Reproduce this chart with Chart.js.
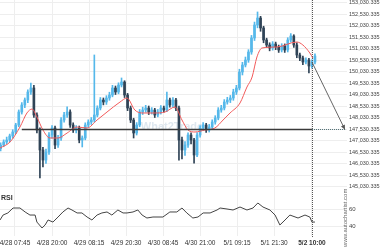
<!DOCTYPE html>
<html>
<head>
<meta charset="utf-8">
<script src="https://cdn.jsdelivr.net/npm/chart.js@4.4.1/dist/chart.umd.min.js"></script>
<style>
  html, body { margin: 0; padding: 0; background: #fff; }
  #wrap { width: 380px; height: 250px; position: relative; }
</style>
</head>
<body>
<div id="wrap"><canvas id="chart"></canvas></div>
<script>
// time axis is in hours since 4/28 00:00, one candle per hour
const firstHour = 3;
const opens = [146700,146855,146986,147073,147247,147421,147725,148290,148595,148812,
  149160,149334,148160,147508,146638,146203,146551,147290,147594,146855,
  147160,147942,148160,148290,147725,147508,147594,147073,147160,147725,
  147855,147942,148160,148464,148812,148725,148899,149029,149334,149160,
  149464,149595,149029,148464,147942,147377,147725,148290,148377,148464,
  148290,148377,148160,148290,148464,148377,148812,148595,148812,148464,
  147073,146638,146855,147290,147073,146421,147290,147594,147725,147508,
  147638,147855,148029,148377,148464,148725,148812,148899,149160,149334,
  150029,150334,150551,150899,151508,152073,152377,151943,151421,151203,
  151073,151247,151116,150986,151160,150986,151421,151595,151203,150769,
  150638,150464,150551,150290,150464];
const closes = [146855,146986,147073,147247,147421,147725,148290,148595,148812,149160,
  149334,148160,147508,146638,146203,146551,147290,147594,146855,147160,
  147942,148160,148290,147725,147508,147594,147073,147160,147725,147855,
  147942,148160,148464,148812,148725,148899,149029,149334,149160,149464,
  149595,149029,148464,147942,147377,147725,148290,148377,148464,148290,
  148377,148160,148290,148464,148377,148812,148595,148812,148464,147073,
  146638,146855,147290,147073,146421,147290,147594,147725,147508,147638,
  147855,148029,148377,148464,148725,148812,148899,149160,149334,150029,
  150334,150551,150899,151508,152073,152377,151943,151421,151203,151073,
  151247,151116,150986,151160,150986,151421,151595,151203,150769,150638,
  150464,150551,150290,150464,150725];
const highs = [146950,147080,147200,147330,147520,147800,148380,148700,148900,149250,
  149550,149450,148250,147600,146750,146680,147400,147700,147680,147280,
  148050,148280,148510,148380,147820,147700,147680,147250,147820,147950,
  148050,150770,148560,148920,148900,149000,149150,149450,149420,149560,
  149770,149650,149100,148550,148020,147830,148400,148500,148580,148550,
  148480,148450,148400,148570,148550,149160,148900,148920,148880,148550,
  147200,147000,147380,147380,147150,147400,147700,147830,147800,147750,
  147950,148130,148480,148580,148830,148930,149010,149280,149450,150150,
  150450,150680,151000,151620,152200,152640,152450,152020,151500,151300,
  151350,151330,151200,151260,151250,151520,151700,151650,151300,150850,
  150720,150650,150620,150560,150820];
const lows = [146600,146780,146900,146990,147150,147350,147650,148200,148480,148700,
  149050,148050,147380,145420,145900,146050,146450,147150,146700,146750,
  147050,147850,148050,147620,147400,147380,146950,146770,147080,147620,
  147750,147850,148080,148380,148600,148620,148800,148950,149050,149080,
  149380,148920,148350,147830,147160,147290,147650,148180,148280,148180,
  148200,148050,148080,148200,148280,148300,148500,148500,148350,146200,
  146250,146400,146750,146900,146070,146350,147200,147500,147400,147420,
  147550,147760,147950,148280,148380,148630,148700,148800,149050,149250,
  149900,150250,150450,150800,151400,151950,151800,151300,151100,150950,
  150980,151000,150880,150900,150880,150900,151330,151100,150650,150520,
  150350,150380,149990,150200,150380];

// moving average (red)
const maHours = [2.8,6.1,9.4,11.7,13.4,15.0,17.0,19.3,22.0,25.0,28.3,31.6,34.9,38.2,42.5,44.8,47.4,49.8,54.1,57.4,
  60.7,63.0,65.0,67.3,70.6,73.9,76.6,78.9,82.2,84.5,86.2,87.8,89.5,94.4,101.0,103.0,105.3,106.3];
const maValues = [146725,146986,147638,148247,148420,148073,147508,147160,147160,147377,147638,147594,147942,148290,148725,148899,148377,148247,148247,148290,
  148508,147942,147508,147421,147508,147594,147942,148247,148682,149377,149812,150682,151073,151116,151334,151203,150856,150638];

// RSI panel
const rsiHours = [2.8,3.8,5.4,7.1,9.4,11.1,12.7,14.4,15.0,16.7,17.7,18.7,20.3,22.0,23.6,25.3,26.6,28.3,29.9,31.6,
  33.2,34.9,36.5,38.2,39.8,41.8,43.5,44.8,46.8,48.4,49.8,51.4,53.4,56.7,59.0,61.3,63.0,64.6,66.6,68.3,
  70.0,72.3,74.6,75.6,77.9,79.9,82.2,84.5,86.5,88.1,89.8,92.1,93.8,95.4,97.1,98.7,101.4,103.7,105.3,106.0,107.0];
const rsiValues = [47.3,53.3,55.8,61.8,61.8,57.0,53.3,53.3,44.8,37.6,41.2,47.3,44.8,50.9,57.0,61.8,59.4,55.8,55.8,50.9,
  47.3,53.3,55.8,57.0,53.3,59.4,55.8,55.8,57.0,59.4,53.3,49.7,50.9,50.9,57.0,57.0,61.8,55.8,49.7,50.9,
  55.8,55.8,59.4,61.8,60.6,59.4,63.0,59.4,61.8,67.9,63.0,59.4,53.3,41.2,47.3,53.3,49.7,53.3,50.9,44.8,44.8];

// axis ticks
const tickHours = [7.75, 20, 32.25, 44.5, 56.75, 69, 81.25, 93.5, 106];
const tickLabels = ['4/28 07:45','4/28 20:00','4/29 08:15','4/29 20:30','4/30 08:45','4/30 21:00','5/1 09:15','5/1 21:30','5/2 10:00'];
const priceTicks = [145030.335,145530.335,146030.335,146530.335,147030.335,147530.335,148030.335,148530.335,
  149030.335,149530.335,150030.335,150530.335,151030.335,151530.335,152030.335,152530.335,153030.335];
const rsiTicks = [40, 60];

// support level and forecast arrow
const supportLevel = 147530;
const supportStart = 10;
const nowHour = 106;
const arrowEndHour = 116.9;
const arrowStartPrice = 150464;

const upColor = '#55b8ea';
const downColor = '#2f4356';
const font = "'Liberation Sans', Arial, sans-serif";

const candleColors = closes.map((c, i) => c >= opens[i] ? upColor : downColor);
const wickData = closes.map((c, i) => ({ x: firstHour + i, y: [lows[i], highs[i]] }));
const bodyData = closes.map((c, i) => ({ x: firstHour + i, y: [opens[i], c] }));

const fmtPrice = v => v.toLocaleString('en-US', { minimumFractionDigits: 3, maximumFractionDigits: 3 });

// extra drawing: watermark, "now" line, arrow head, captions
const overlay = {
  id: 'overlay',
  beforeDatasetsDraw(chart) {
    const { ctx, scales } = chart;
    ctx.save();
    ctx.font = 'bold 11px ' + font;
    ctx.fillStyle = 'rgba(160,185,210,0.35)';
    ctx.textAlign = 'center';
    ctx.textBaseline = 'middle';
    ctx.fillText('What2Trade', scales.x.getPixelForValue(59.7), scales.y.getPixelForValue(147620));
    ctx.restore();
  },
  afterDatasetsDraw(chart) {
    const { ctx, chartArea, scales } = chart;
    const x = Math.round(scales.x.getPixelForValue(nowHour)) + 0.5;
    ctx.save();
    ctx.strokeStyle = '#555';
    ctx.lineWidth = 1;
    ctx.setLineDash([1, 1]);
    ctx.beginPath();
    ctx.moveTo(x, chartArea.top);
    ctx.lineTo(x, chartArea.bottom + 2);
    ctx.stroke();
    ctx.setLineDash([]);

    // arrow head
    const x0 = scales.x.getPixelForValue(nowHour), y0 = scales.y.getPixelForValue(arrowStartPrice);
    const x1 = scales.x.getPixelForValue(arrowEndHour), y1 = scales.y.getPixelForValue(supportLevel);
    const a = Math.atan2(y1 - y0, x1 - x0);
    ctx.fillStyle = '#555';
    ctx.beginPath();
    ctx.moveTo(x1, y1);
    ctx.lineTo(x1 - 5 * Math.cos(a - 0.45), y1 - 5 * Math.sin(a - 0.45));
    ctx.lineTo(x1 - 5 * Math.cos(a + 0.45), y1 - 5 * Math.sin(a + 0.45));
    ctx.closePath();
    ctx.fill();

    ctx.fillStyle = '#333';
    ctx.font = 'bold 7px ' + font;
    ctx.textBaseline = 'middle';
    ctx.fillText('RSI', 1, scales.y2.top + 6);

    ctx.translate(chartArea.right - 2, scales.y2.getPixelForValue(50));
    ctx.rotate(-Math.PI / 2);
    ctx.font = '6px ' + font;
    ctx.fillStyle = '#666';
    ctx.textAlign = 'center';
    ctx.fillText('www.autochartist.com', 0, 0);
    ctx.restore();
  }
};

new Chart(document.getElementById('chart'), {
  type: 'bar',
  data: {
    datasets: [
      { type: 'line', data: maHours.map((h, i) => ({ x: h, y: maValues[i] })), borderColor: '#f25a5a', borderWidth: 1,
        pointRadius: 0, cubicInterpolationMode: 'monotone', yAxisID: 'y', order: 1 },
      { type: 'line', data: [{ x: supportStart, y: supportLevel }, { x: nowHour, y: supportLevel }], borderColor: '#3a3a3a',
        borderWidth: 1.5, pointRadius: 0, yAxisID: 'y', order: 0 },
      { type: 'line', data: [{ x: nowHour, y: supportLevel }, { x: arrowEndHour, y: supportLevel }], borderColor: '#4a6a70',
        borderWidth: 1, borderDash: [1, 1], pointRadius: 0, yAxisID: 'y', order: 0 },
      { type: 'line', data: [{ x: nowHour, y: arrowStartPrice }, { x: arrowEndHour, y: supportLevel }], borderColor: '#666',
        borderWidth: 1, pointRadius: 0, yAxisID: 'y', order: 0 },
      { type: 'line', data: rsiHours.map((h, i) => ({ x: h, y: rsiValues[i] })), borderColor: '#444', borderWidth: 1,
        pointRadius: 0, tension: 0, yAxisID: 'y2', order: 0 },
      { data: bodyData, backgroundColor: candleColors, barThickness: 2, grouped: false, yAxisID: 'y', order: 3 },
      { data: wickData, backgroundColor: candleColors, barThickness: 1, grouped: false, yAxisID: 'y', order: 4 }
    ]
  },
  options: {
    responsive: true,
    maintainAspectRatio: false,
    animation: false,
    events: [],
    layout: { padding: 0 },
    plugins: { legend: { display: false }, tooltip: { enabled: false } },
    scales: {
      x: {
        type: 'linear', min: 2.79, max: 117.6, offset: false,
        afterBuildTicks: s => { s.ticks = tickHours.map(v => ({ value: v })); },
        afterFit: s => { s.height = 14; s.paddingLeft = 0; s.paddingRight = 0; },
        ticks: {
          autoSkip: false, maxRotation: 0, padding: 3, color: '#333',
          callback: (v, i) => tickLabels[i],
          font: c => ({ size: 6.5, family: font, weight: c.index === tickLabels.length - 1 ? 'bold' : 'normal' })
        },
        grid: { color: '#eeeeee', drawTicks: false, offset: false },
        border: { display: false }
      },
      y: {
        position: 'right', stack: 'panes', stackWeight: 192, min: 144812, max: 153160,
        afterBuildTicks: s => { s.ticks = priceTicks.map(v => ({ value: v })); },
        afterFit: s => { s.width = 33; s.paddingTop = 0; s.paddingBottom = 0; },
        ticks: { autoSkip: false, padding: 2, color: '#444', font: { size: 5.5, family: font }, callback: v => fmtPrice(v) },
        grid: { color: '#eeeeee', drawTicks: false },
        border: { display: false }
      },
      y2: {
        position: 'right', stack: 'panes', stackWeight: 44, min: 27.9, max: 81.2, offset: false,
        afterBuildTicks: s => { s.ticks = rsiTicks.map(v => ({ value: v })); },
        afterFit: s => { s.width = 33; s.paddingTop = 0; s.paddingBottom = 0; },
        ticks: { autoSkip: false, padding: 2, color: '#444', font: { size: 6, family: font } },
        grid: { color: '#eeeeee', drawTicks: false },
        border: { display: false }
      }
    }
  },
  plugins: [overlay]
});
</script>
</body>
</html>
